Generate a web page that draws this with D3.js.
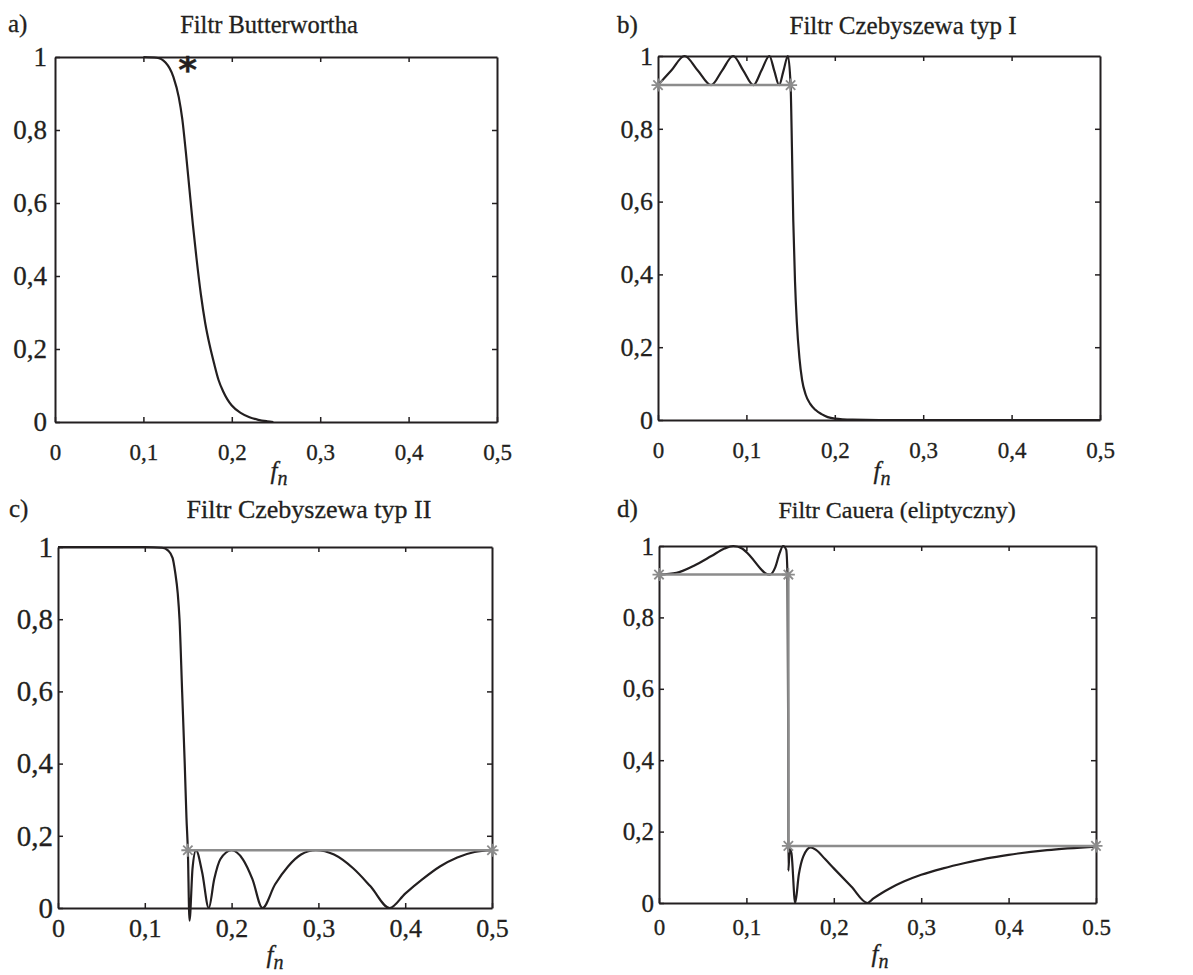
<!DOCTYPE html>
<html>
<head>
<meta charset="utf-8">
<script src="https://cdn.jsdelivr.net/npm/d3@7"></script>
<style>
  body { margin: 0; background: #fff; }
  text { font-family: "Liberation Serif", "Times New Roman", serif; fill: #231f20; stroke: #231f20; stroke-width: 0.3px; }
</style>
</head>
<body>
<svg id="fig" width="1193" height="975"></svg>
<script>
// tick values and labels
var xTicks = [0, 0.1, 0.2, 0.3, 0.4, 0.5];
var yTicks = [0, 0.2, 0.4, 0.6, 0.8, 1];
var xTickLabels = ["0", "0,1", "0,2", "0,3", "0,4", "0,5"];
var xTickLabelsD = ["0", "0,1", "0,2", "0,3", "0,4", "0.5"];
var yTickLabels = ["0", "0,2", "0,4", "0,6", "0,8", "1"];

// a) Butterworth (read off the picture)
var butterF = [0.1, 0.115, 0.125, 0.134, 0.14, 0.144, 0.148, 0.152, 0.156, 0.16, 0.165, 0.17, 0.175, 0.18, 0.185, 0.19, 0.195, 0.2, 0.21, 0.22, 0.23, 0.24, 0.247];
var butterV = [1, 0.998, 0.985, 0.945, 0.89, 0.83, 0.74, 0.64, 0.54, 0.45, 0.35, 0.27, 0.21, 0.16, 0.115, 0.085, 0.062, 0.045, 0.025, 0.013, 0.006, 0.002, 0];
var butterStar = [0.15, 0.985];

// b) Chebyshev type I
var cheb1F = [0, 0.015, 0.03, 0.045, 0.06, 0.0725, 0.085, 0.0965, 0.108, 0.117, 0.126, 0.1315, 0.137, 0.142, 0.147, 0.15, 0.1515, 0.153, 0.155, 0.157, 0.16, 0.163, 0.167, 0.172, 0.178, 0.185, 0.192, 0.2, 0.22, 0.25, 0.5];
var cheb1V = [0.92, 0.96, 1, 0.96, 0.92, 0.96, 1, 0.96, 0.92, 0.96, 1, 0.96, 0.92, 0.96, 1, 0.92, 0.75, 0.55, 0.38, 0.27, 0.17, 0.11, 0.07, 0.045, 0.028, 0.016, 0.008, 0.004, 0.001, 0, 0];
var cheb1GuideF = [0, 0.15];
var cheb1GuideV = [0.92, 0.92];

// c) Chebyshev type II
var cheb2F = [0, 0.1, 0.12, 0.127, 0.132, 0.135, 0.138, 0.14, 0.143, 0.146, 0.148, 0.1496, 0.1515, 0.155, 0.159, 0.166, 0.1737, 0.18, 0.187, 0.2, 0.213, 0.224, 0.2355, 0.25, 0.265, 0.28, 0.297, 0.318, 0.34, 0.36, 0.382, 0.4, 0.42, 0.44, 0.46, 0.48, 0.5];
var cheb2V = [1, 1, 0.998, 0.99, 0.97, 0.93, 0.87, 0.8, 0.6, 0.4, 0.25, 0.16, -0.035, 0.11, 0.16, 0.1, 0, 0.08, 0.135, 0.16, 0.135, 0.08, 0, 0.065, 0.115, 0.148, 0.16, 0.148, 0.11, 0.06, 0, 0.04, 0.08, 0.115, 0.14, 0.155, 0.16];
var cheb2GuideF = [0.1496, 0.5];
var cheb2GuideV = [0.16, 0.16];

// d) Cauer (elliptic)
var cauerF = [0, 0.02, 0.04, 0.06, 0.075, 0.085, 0.095, 0.105, 0.115, 0.122, 0.127, 0.133, 0.138, 0.142, 0.1455, 0.147, 0.1478, 0.148, 0.1495, 0.1515, 0.1558, 0.16, 0.165, 0.1736, 0.18, 0.19, 0.2, 0.22, 0.2385, 0.245, 0.255, 0.265, 0.28, 0.3, 0.325, 0.35, 0.375, 0.4, 0.444, 0.5];
var cauerV = [0.92, 0.925, 0.945, 0.972, 0.993, 1, 0.993, 0.97, 0.94, 0.923, 0.92, 0.94, 0.98, 1, 0.99, 0.92, 0.5, 0.09, 0.15, 0.14, 0, 0.08, 0.13, 0.156, 0.148, 0.123, 0.097, 0.046, 0, 0.012, 0.028, 0.042, 0.06, 0.079, 0.097, 0.112, 0.125, 0.135, 0.148, 0.158];
var cauerGuideF = [0, 0.148, 0.148, 0.5];
var cauerGuideV = [0.92, 0.92, 0.16, 0.16];

var panels = [
  { letter: "a)", title: "Filtr Butterwortha", f: butterF, v: butterV, gf: null, gv: null, star: butterStar,
    x0: 55, x1: 497, y0: 57, y1: 422, xLab: xTickLabels, xFs: 23, yFs: 27, xBase: 460, yGap: 8,
    tx: 269, ty: 33, tFs: 24.5, lx: 8, fnX: 279, fnY: 479 },
  { letter: "b)", title: "Filtr Czebyszewa typ I", f: cheb1F, v: cheb1V, gf: cheb1GuideF, gv: cheb1GuideV,
    x0: 658, x1: 1100, y0: 56, y1: 420, xLab: xTickLabels, xFs: 23, yFs: 26, xBase: 458, yGap: 5,
    tx: 903, ty: 34, tFs: 25, lx: 617, fnX: 882, fnY: 479 },
  { letter: "c)", title: "Filtr Czebyszewa typ II", f: cheb2F, v: cheb2V, gf: cheb2GuideF, gv: cheb2GuideV,
    x0: 58, x1: 492, y0: 547, y1: 908, xLab: xTickLabels, xFs: 26, yFs: 29, xBase: 937, yGap: 5,
    tx: 309, ty: 518, tFs: 26, lx: 9, fnX: 275, fnY: 963 },
  { letter: "d)", title: "Filtr Cauera (eliptyczny)", f: cauerF, v: cauerV, gf: cauerGuideF, gv: cauerGuideV,
    x0: 659, x1: 1096, y0: 546, y1: 903, xLab: xTickLabelsD, xFs: 23, yFs: 25, xBase: 935, yGap: 5,
    tx: 897, ty: 518, tFs: 24, lx: 617, fnX: 880, fnY: 962 }
];

var svg = d3.select("#fig");
var ink = "#231f20";
var grey = "#8c8c8c";

function starPath(r) {
  var s = r * 0.72;
  return "M" + (-r) + ",0H" + r + "M0," + (-r) + "V" + r +
    "M" + (-s) + "," + (-s) + "L" + s + "," + s + "M" + (-s) + "," + s + "L" + s + "," + (-s);
}

panels.forEach(function(p) {
  var x = d3.scaleLinear().domain([0, 0.5]).range([p.x0, p.x1]);
  var y = d3.scaleLinear().domain([0, 1]).range([p.y1, p.y0]);
  var g = svg.append("g");

  // frame with inward ticks on all four sides
  var bottomPad = p.xBase - p.y1 - 0.71 * p.xFs;
  var bottom = d3.axisBottom(x).tickValues(xTicks).tickFormat(function(d, i) { return p.xLab[i]; })
    .tickSizeInner(-5).tickSizeOuter(0).tickPadding(bottomPad);
  var left = d3.axisLeft(y).tickValues(yTicks).tickFormat(function(d, i) { return yTickLabels[i]; })
    .tickSizeInner(-5).tickSizeOuter(0).tickPadding(p.yGap);
  var top = d3.axisTop(x).tickValues(xTicks.slice(1, -1)).tickFormat("").tickSizeInner(-5).tickSizeOuter(0);
  var right = d3.axisRight(y).tickValues(yTicks.slice(1, -1)).tickFormat("").tickSizeInner(-5).tickSizeOuter(0);

  var axes = [
    g.append("g").attr("transform", "translate(0," + p.y1 + ")").call(bottom),
    g.append("g").attr("transform", "translate(" + p.x0 + ",0)").call(left),
    g.append("g").attr("transform", "translate(0," + p.y0 + ")").call(top),
    g.append("g").attr("transform", "translate(" + p.x1 + ",0)").call(right)
  ];
  axes.forEach(function(a) {
    a.attr("font-family", null).attr("font-size", null);
    a.select(".domain").attr("stroke", ink).attr("stroke-width", 2);
    a.selectAll(".tick line").attr("stroke", ink).attr("stroke-width", 1.5);
  });
  axes[0].selectAll("text").style("font-size", p.xFs + "px").attr("fill", ink);
  axes[1].selectAll("text").style("font-size", p.yFs + "px").attr("fill", ink);

  // response curve
  var pts = p.f.map(function(f, i) { return [f, p.v[i]]; });
  var line = d3.line().x(function(d) { return x(d[0]); }).y(function(d) { return y(d[1]); })
    .curve(d3.curveMonotoneX);
  g.append("path").datum(pts).attr("d", line)
    .attr("fill", "none").attr("stroke", ink).attr("stroke-width", 2.2).attr("stroke-linejoin", "round");

  // tolerance guides
  if (p.gf) {
    var gpts = p.gf.map(function(f, i) { return [f, p.gv[i]]; });
    g.append("path").datum(gpts)
      .attr("d", d3.line().x(function(d) { return x(d[0]); }).y(function(d) { return y(d[1]); }))
      .attr("fill", "none").attr("stroke", grey).attr("stroke-width", 2.5);
    g.selectAll(".mk").data(gpts).join("path")
      .attr("class", "mk")
      .attr("transform", function(d) { return "translate(" + x(d[0]) + "," + y(d[1]) + ")"; })
      .attr("d", starPath(6.5))
      .attr("stroke", grey).attr("stroke-width", 1.8).attr("fill", "none");
  }

  if (p.star) {
    g.append("text")
      .attr("x", x(p.star[0])).attr("y", y(p.star[1]) + 20)
      .attr("text-anchor", "middle")
      .style("font-family", "'DejaVu Sans', sans-serif")
      .style("font-weight", "bold")
      .style("font-size", "36px")
      .text("*");
  }

  // titles and labels
  g.append("text").attr("x", p.lx).attr("y", p.ty - 1).style("font-size", "25px").text(p.letter);
  g.append("text").attr("x", p.tx).attr("y", p.ty).attr("text-anchor", "middle")
    .style("font-size", p.tFs + "px").text(p.title);
  var fn = g.append("text").attr("x", p.fnX).attr("y", p.fnY).attr("text-anchor", "middle")
    .style("font-size", "25px").style("font-style", "italic");
  fn.append("tspan").text("f");
  fn.append("tspan").attr("dy", 6).style("font-size", "20px").text("n");
});
</script>
</body>
</html>
